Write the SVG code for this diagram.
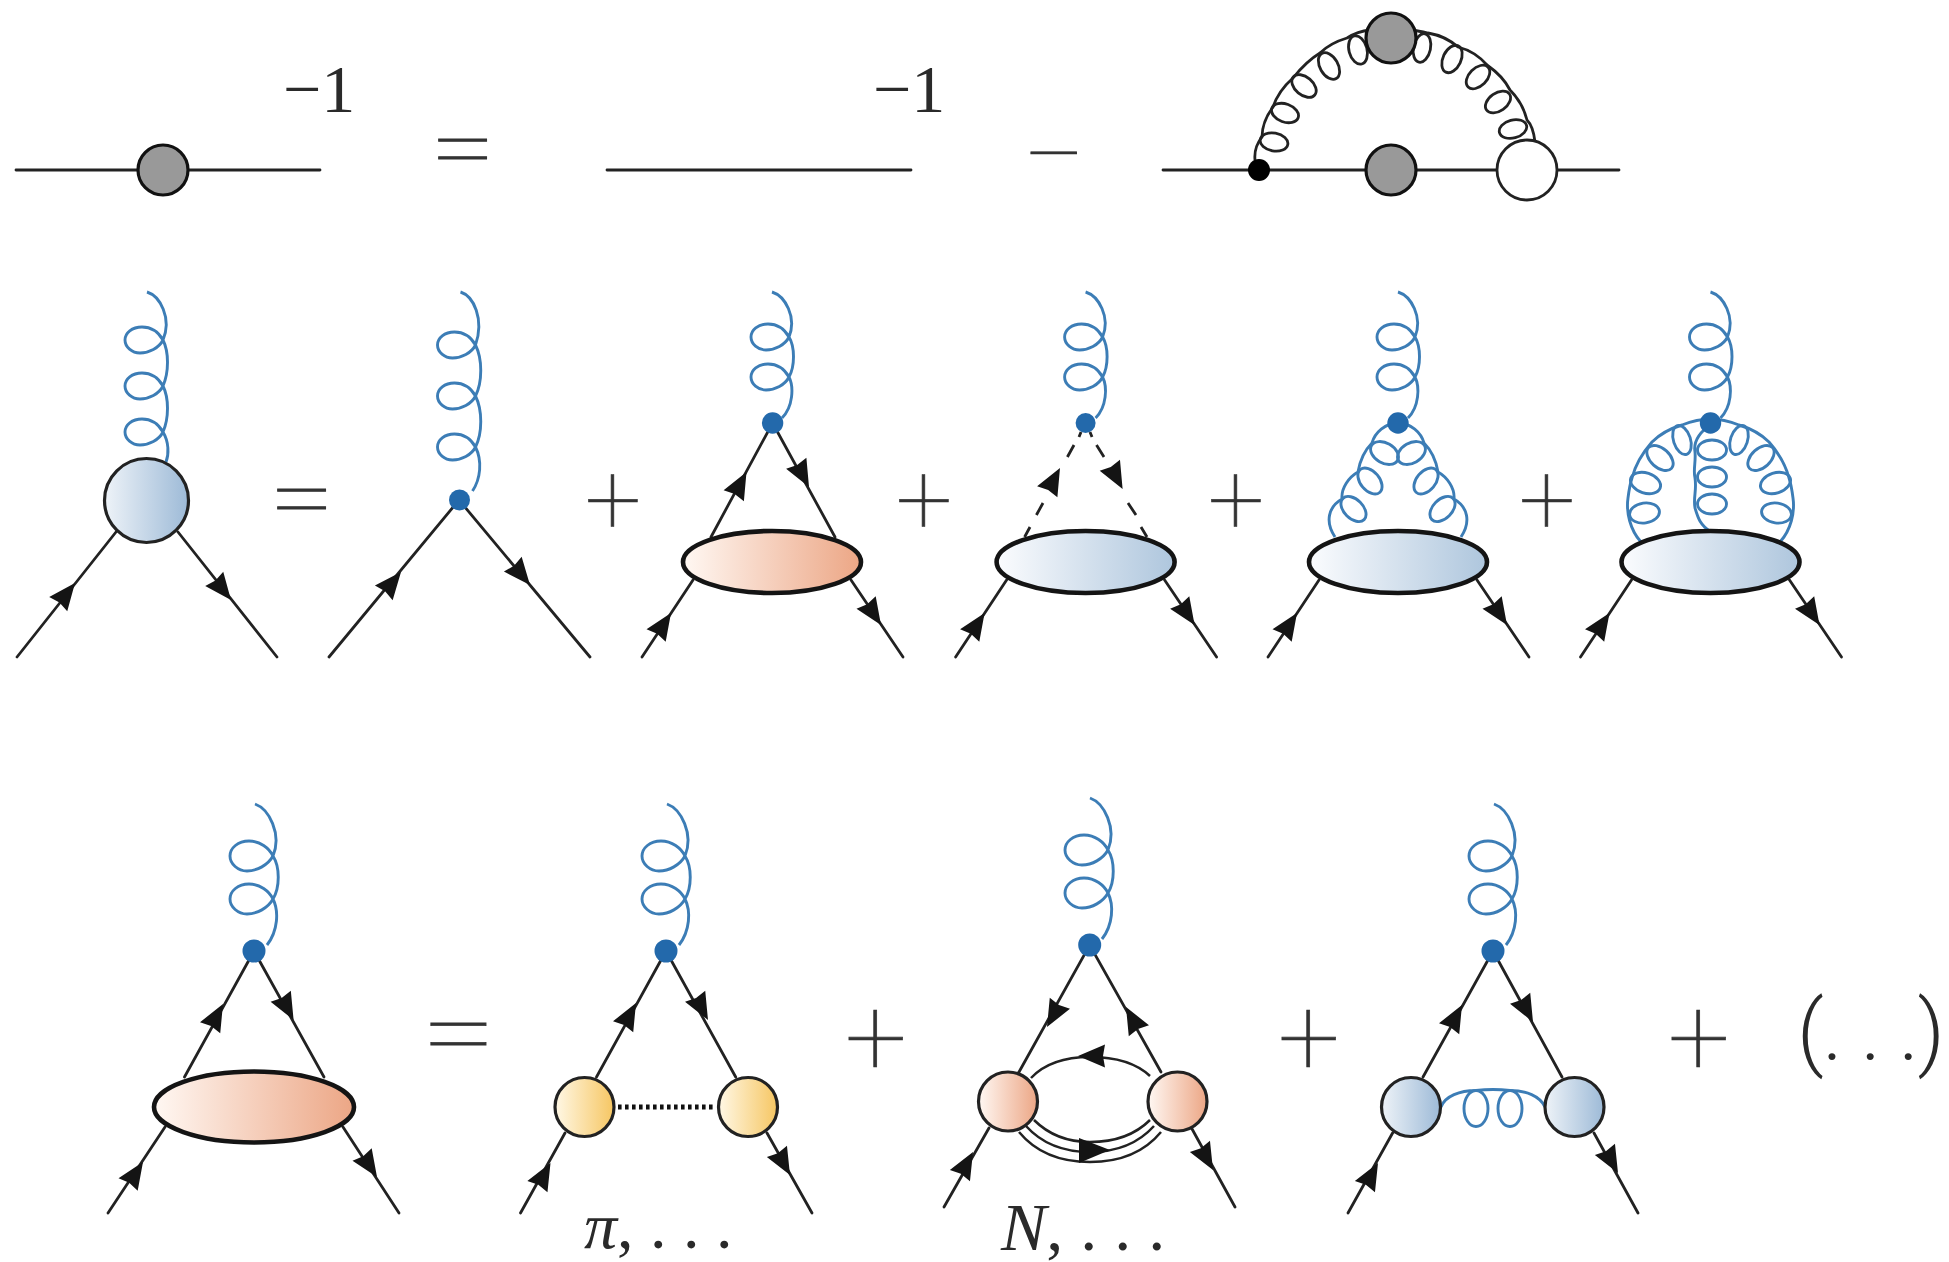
<svg xmlns="http://www.w3.org/2000/svg" xmlns:xlink="http://www.w3.org/1999/xlink" width="1949" height="1262" viewBox="0 0 1949 1262">
<style>
.l{fill:none;stroke:#222;stroke-width:2.8;stroke-linecap:round}
.d{fill:none;stroke:#222;stroke-width:2.8}
.t{fill:none;stroke:#222;stroke-width:2.5}
.g{fill:none;stroke:#3c7db6;stroke-width:2.9}
.tk{fill:none;stroke:#222;stroke-width:2.8}
.dot{fill:#2369ab}
.grey{fill:#999;stroke:#111;stroke-width:3.2}
.ell{stroke:#141414;stroke-width:4.6}
.cir{stroke:#222;stroke-width:3.2}
.o{fill:url(#orange)}.b{fill:url(#blue)}.y{fill:url(#yellow)}.bs{fill:url(#blues)}
.op{font-family:"Roboto",sans-serif;font-weight:100;fill:#333;stroke:#333;stroke-width:.7;text-anchor:middle}
.m{font-family:"Liberation Serif",serif;fill:#2a2a2a}
.i{font-style:italic}
</style>
<defs>
<linearGradient id="orange"><stop offset="0" stop-color="#fff8f3"/><stop offset="1" stop-color="#eca685"/></linearGradient>
<linearGradient id="blue"><stop offset="0" stop-color="#fbfcfe"/><stop offset="1" stop-color="#aec6dd"/></linearGradient>
<linearGradient id="blues"><stop offset="0" stop-color="#eef3f8"/><stop offset="1" stop-color="#9dbad7"/></linearGradient>
<linearGradient id="yellow"><stop offset="0" stop-color="#fff8e6"/><stop offset="1" stop-color="#f6c662"/></linearGradient>
<path id="a" d="M0,0L-27,-11.5L-25,0L-27,11.5Z" fill="#141414"/>
<path id="g3a" class="g" d="M-16,-48C-3,-44 9,-22 0,0c-4,8 -14,13 -23,13c-8,0 -15,-6 -15,-13c0,-7 7,-13 17,-13c10,0 17,6 21,13c6,12 6,32 0,46c-4,8 -14,13 -23,13c-8,0 -15,-6 -15,-13c0,-7 7,-13 17,-13c10,0 17,6 21,13c6,12 6,32 0,46c-4,8 -14,13 -23,13c-8,0 -15,-6 -15,-13c0,-7 7,-13 17,-13c10,0 17,6 21,13c6,10 6,22 3,30"/>
<path id="g3b" class="g" d="M-15,-53C-2,-49 9,-26 0,0c-4,8 -14,13 -23,13c-8,0 -15,-6 -15,-13c0,-7 7,-13 17,-13c10,0 17,6 21,13c7,14 7,37 0,51c-4,8 -14,13 -23,13c-8,0 -15,-6 -15,-13c0,-7 7,-13 17,-13c10,0 17,6 21,13c7,14 7,37 0,51c-4,8 -14,13 -23,13c-8,0 -15,-6 -15,-13c0,-7 7,-13 17,-13c10,0 17,6 21,13c7,14 5,32 -3,44"/>
<path id="g2" class="g" d="M-17,-45C-4,-41 8,-20 0,0c-4,8 -14,13 -23,13c-8,0 -15,-6 -15,-13c0,-7 7,-13 17,-13c10,0 17,6 21,13c6,10 6,29 0,40c-4,8 -14,13 -23,13c-8,0 -15,-6 -15,-13c0,-7 7,-13 17,-13c10,0 17,6 21,13c5,10 4,30 -7,41"/>
<path id="g2L" class="g" d="M-18,-52C-4,-47 9,-22 0,0c-5,9 -16,15 -26,15c-9,0 -17,-7 -17,-15c0,-8 8,-15 19,-15c11,0 20,7 24,15c7,11 7,31 0,43c-5,9 -16,15 -26,15c-9,0 -17,-7 -17,-15c0,-8 8,-15 19,-15c11,0 20,7 24,15c6,12 5,32 -6,46"/>
<g id="halfE" class="g">
<path d="M1335,537C1325,522 1328,507 1342,499C1341,488 1349,477 1358,472C1360,460 1365,450 1372,443C1375,432 1385,424 1398,422"/>
<ellipse cx="1353.5" cy="509" rx="15" ry="9.5" transform="rotate(45 1353.5 509)"/>
<ellipse cx="1370" cy="481" rx="15" ry="9.5" transform="rotate(50 1370 481)"/>
<ellipse cx="1384.5" cy="453" rx="15" ry="10" transform="rotate(30 1384.5 453)"/>
</g>
<g id="halfF" class="g">
<path d="M1641,542C1630,530 1626,512 1628,498C1629,490 1630,484 1632,478C1636,462 1645,450 1652,442C1662,432 1672,428 1682,425C1692,421 1702,419 1711,419"/>
<ellipse cx="1644.5" cy="513" rx="15" ry="10" transform="rotate(-8 1644.5 513)"/>
<ellipse cx="1645.5" cy="483" rx="15.5" ry="10" transform="rotate(18 1645.5 483)"/>
<ellipse cx="1660" cy="458" rx="15.5" ry="9.5" transform="rotate(42 1660 458)"/>
<ellipse cx="1682" cy="440" rx="15" ry="8.5" transform="rotate(72 1682 440)"/>
</g>
</defs>
<rect width="1949" height="1262" fill="#fff"/>

<g id="connectors">
<!-- row 1 -->
<path class="l" d="M16,170H320M607,170H911M1163,170H1619"/>
<g class="tk">
<path d="M1255,160C1254,150 1258,142 1262,137C1262,125 1267,115 1273,107C1277,95 1285,85 1293,78C1301,68 1310,59 1320,53C1328,45 1337,41 1347,38C1355,33 1361,31 1370,30"/>
<path d="M1412,30C1418,31 1423,32 1428,33C1440,35 1450,40 1458,47C1470,50 1480,57 1487,65C1497,72 1505,80 1510,90C1518,98 1524,108 1527,120C1532,125 1534,133 1535,142"/>
<ellipse cx="1274" cy="142" rx="14" ry="9" transform="rotate(10 1274 142)"/>
<ellipse cx="1285" cy="113" rx="14" ry="9" transform="rotate(20 1285 113)"/>
<ellipse cx="1304" cy="86" rx="14" ry="9" transform="rotate(40 1304 86)"/>
<ellipse cx="1329" cy="66" rx="14.5" ry="9" transform="rotate(60 1329 66)"/>
<ellipse cx="1358" cy="50" rx="14.5" ry="9" transform="rotate(75 1358 50)"/>
<ellipse cx="1422" cy="48" rx="14.5" ry="8.5" transform="rotate(-78 1422 48)"/>
<ellipse cx="1452" cy="59" rx="14.5" ry="9" transform="rotate(-65 1452 59)"/>
<ellipse cx="1478" cy="77" rx="14" ry="9" transform="rotate(-45 1478 77)"/>
<ellipse cx="1498" cy="102" rx="14" ry="9" transform="rotate(-35 1498 102)"/>
<ellipse cx="1513" cy="129" rx="14" ry="9" transform="rotate(-15 1513 129)"/>
</g>
<!-- row 2 -->
<path class="l" d="M17,657L116,532M178,532L277,657M329,657L459,500L590,657"/>
<use href="#g3a" transform="translate(163,340)"/>
<use href="#g3b" transform="translate(475.5,345)"/>
<use href="#a" transform="translate(75,583) rotate(-51.6)"/><use href="#a" transform="translate(231,600) rotate(51.6)"/>
<use href="#a" transform="translate(401,572) rotate(-50.4)"/><use href="#a" transform="translate(530,585) rotate(50.4)"/>

<path class="l" d="M642,657L693,580M851,580L903,657M711,537L772.6,423L835,537"/>
<use href="#g2" transform="translate(789,337)"/>
<use href="#a" transform="translate(746.5,472) rotate(-61.8)"/><use href="#a" transform="translate(809,487) rotate(61.8)"/>
<use href="#a" transform="translate(671,613) rotate(-56.5)"/><use href="#a" transform="translate(881,625) rotate(56.5)"/>

<path class="l" d="M955.6,657L1006.6,580M1164.6,580L1216.6,657"/>
<path class="d" d="M1081,432L1079,437M1074,445L1067.4,457M1043,503L1036.4,515M1030,527L1024.6,537M1090,432L1092,437M1096.5,445L1104,457M1128,503L1136,515M1141,527L1147,537"/>
<use href="#g2" transform="translate(1102.6,337)"/>
<use href="#a" transform="translate(1060,468) rotate(-61.8)"/><use href="#a" transform="translate(1122.6,489) rotate(61.8)"/>
<use href="#a" transform="translate(984.6,613) rotate(-56.5)"/><use href="#a" transform="translate(1194.6,625) rotate(56.5)"/>

<path class="l" d="M1268,657L1319,580M1477,580L1529,657"/>
<use href="#g2" transform="translate(1415,337)"/>
<use href="#halfE"/><use href="#halfE" transform="matrix(-1 0 0 1 2796 0)"/>
<use href="#a" transform="translate(1297,613) rotate(-56.5)"/><use href="#a" transform="translate(1507,625) rotate(56.5)"/>

<path class="l" d="M1580.5,657L1631.5,580M1789.5,580L1841.5,657"/>
<use href="#g2" transform="translate(1727.5,337)"/>
<use href="#halfF"/><use href="#halfF" transform="matrix(-1 0 0 1 3421 0)"/>
<g class="g">
<path d="M1711,425C1702,430 1693,440 1695,452C1696,462 1693,470 1695,478C1697,490 1693,498 1695,508C1698,518 1700,525 1711,532"/>
<ellipse cx="1712" cy="450" rx="14.5" ry="10"/><ellipse cx="1712" cy="477" rx="14.5" ry="10"/><ellipse cx="1712" cy="504" rx="14.5" ry="10"/>
</g>
<use href="#a" transform="translate(1609.5,613) rotate(-56.5)"/><use href="#a" transform="translate(1819.5,625) rotate(56.5)"/>

<!-- row 3 -->
<path class="l" d="M108,1213L165,1127M343,1127L399,1213M184.5,1077L254,951L324,1077"/>
<use href="#g2L" transform="translate(273,856)"/>
<use href="#a" transform="translate(223,1004) rotate(-61.5)"/><use href="#a" transform="translate(293.6,1020) rotate(61.5)"/>
<use href="#a" transform="translate(143,1162) rotate(-56.5)"/><use href="#a" transform="translate(377,1177) rotate(56.5)"/>

<path class="l" d="M520.5,1213L565,1133M767,1133L812,1213M596.5,1077L666,951L735.7,1077"/>
<path d="M618,1107H713" fill="none" stroke="#111" stroke-width="5" stroke-dasharray="3.6 3.4"/>
<use href="#g2L" transform="translate(685,856)"/>
<use href="#a" transform="translate(636,1003) rotate(-61.5)"/><use href="#a" transform="translate(708,1020) rotate(61.5)"/>
<use href="#a" transform="translate(550.5,1163) rotate(-61)"/><use href="#a" transform="translate(790,1175) rotate(61)"/>

<path class="l" d="M944,1207L989,1128M1191.5,1128L1235,1207M1019,1072L1089.7,945L1161,1072"/>
<use href="#g2L" transform="translate(1108,850)"/>
<use href="#a" transform="translate(1047,1027) rotate(118.5)"/><use href="#a" transform="translate(1126,1007) rotate(-118.5)"/>
<use href="#a" transform="translate(973,1152) rotate(-61)"/><use href="#a" transform="translate(1213,1170) rotate(61)"/>
<path class="t" d="M1031,1078C1046,1062 1066,1057 1090,1057C1114,1057 1135,1062 1150,1076"/>
<path class="t" d="M1034,1120C1050,1136 1068,1142 1090,1142C1112,1142 1134,1136 1150,1120M1026,1126C1044,1146 1066,1152 1090,1152C1114,1152 1136,1146 1154,1126M1019,1132C1038,1155 1064,1162 1090,1162C1116,1162 1142,1155 1161,1132"/>
<use href="#a" transform="translate(1078,1056) rotate(180)"/>
<path d="M1110,1150L1079,1138L1079,1163Z" fill="#141414"/>

<path class="l" d="M1348,1213L1392.6,1133M1594,1133L1638,1213M1423,1077L1493,951L1562,1077"/>
<use href="#g2L" transform="translate(1512,856)"/>
<g class="g"><path d="M1441,1107C1445,1096 1460,1090.5 1476,1090.5C1488,1089 1498,1089 1510,1090.5C1526,1090.5 1540,1096 1545,1107"/>
<ellipse cx="1476" cy="1108.5" rx="12" ry="18"/><ellipse cx="1510" cy="1108.5" rx="12" ry="18"/></g>
<use href="#a" transform="translate(1462,1005) rotate(-61.5)"/><use href="#a" transform="translate(1533,1022) rotate(61.5)"/>
<use href="#a" transform="translate(1378,1163) rotate(-61)"/><use href="#a" transform="translate(1618,1173) rotate(61)"/>
</g>

<g id="node-r1-grey1"><circle class="grey" cx="163" cy="170" r="25"/></g>
<g id="node-r1-dot"><circle cx="1259" cy="170" r="11" fill="#000"/></g>
<g id="node-r1-grey2"><circle class="grey" cx="1391" cy="170" r="25"/></g>
<g id="node-r1-grey3"><circle class="grey" cx="1391" cy="38" r="25"/></g>
<g id="node-r1-white"><circle cx="1527" cy="170" r="30" fill="#fff" stroke="#222" stroke-width="2.8"/></g>

<g id="node-a"><circle class="cir bs" cx="146.5" cy="500.5" r="42"/></g>
<g id="node-b"><circle class="dot" cx="459.5" cy="500" r="10.5"/></g>
<g id="node-c"><ellipse class="ell o" cx="772" cy="562" rx="89" ry="31"/><circle class="dot" cx="772.6" cy="423" r="10.7"/></g>
<g id="node-d"><ellipse class="ell b" cx="1085.6" cy="562" rx="89" ry="31"/><circle class="dot" cx="1085.6" cy="423" r="10"/></g>
<g id="node-e"><ellipse class="ell b" cx="1398" cy="562" rx="89" ry="31"/><circle class="dot" cx="1398" cy="423" r="10.7"/></g>
<g id="node-f"><ellipse class="ell b" cx="1710.5" cy="562" rx="89" ry="31"/><circle class="dot" cx="1710.5" cy="423" r="10.7"/></g>

<g id="node-g"><ellipse class="ell o" cx="254" cy="1107" rx="100" ry="35.5"/><circle class="dot" cx="254" cy="951" r="11.5"/></g>
<g id="node-h"><circle class="cir y" cx="584.5" cy="1107" r="29.5"/><circle class="cir y" cx="748" cy="1107" r="29.5"/><circle class="dot" cx="666" cy="951" r="11.5"/></g>
<g id="node-i"><circle class="cir o" cx="1008" cy="1101.5" r="29.5"/><circle class="cir o" cx="1177.5" cy="1101.5" r="29.5"/><circle class="dot" cx="1089.7" cy="945" r="11.5"/></g>
<g id="node-j"><circle class="cir bs" cx="1411" cy="1107" r="29.5"/><circle class="cir bs" cx="1574.5" cy="1107" r="29.5"/><circle class="dot" cx="1493" cy="951" r="11.5"/></g>

<g id="labels">
<text class="m" x="283" y="112" font-size="68">−1</text>
<text class="m" x="873" y="112" font-size="68">−1</text>
<text class="op" transform="translate(463,178) scale(1.47,1.1)" font-size="80">=</text>
<text class="op" transform="translate(1054,182) scale(1.4,1)" font-size="80">−</text>
<text class="op" transform="translate(302,528) scale(1.47,1.1)" font-size="80">=</text>
<text class="op" x="613" y="534" font-size="100">+</text>
<text class="op" x="924" y="534" font-size="100">+</text>
<text class="op" x="1236" y="534" font-size="100">+</text>
<text class="op" x="1547" y="534" font-size="100">+</text>
<text class="op" transform="translate(459,1066) scale(1.5,1.1)" font-size="90">=</text>
<text class="op" x="876" y="1075" font-size="110">+</text>
<text class="op" x="1309" y="1075" font-size="110">+</text>
<text class="op" x="1699" y="1075" font-size="110">+</text>
<text x="1797" y="1060" font-size="84" font-family="Roboto,sans-serif" font-weight="300" fill="#2a2a2a" textLength="148" lengthAdjust="spacing">(. . .)</text>
<text class="m" x="584" y="1248" font-size="66"><tspan class="i">π</tspan>, . . .</text>
<text class="m" x="1001" y="1250" font-size="68"><tspan class="i">N</tspan>, . . .</text>
</g>
</svg>
